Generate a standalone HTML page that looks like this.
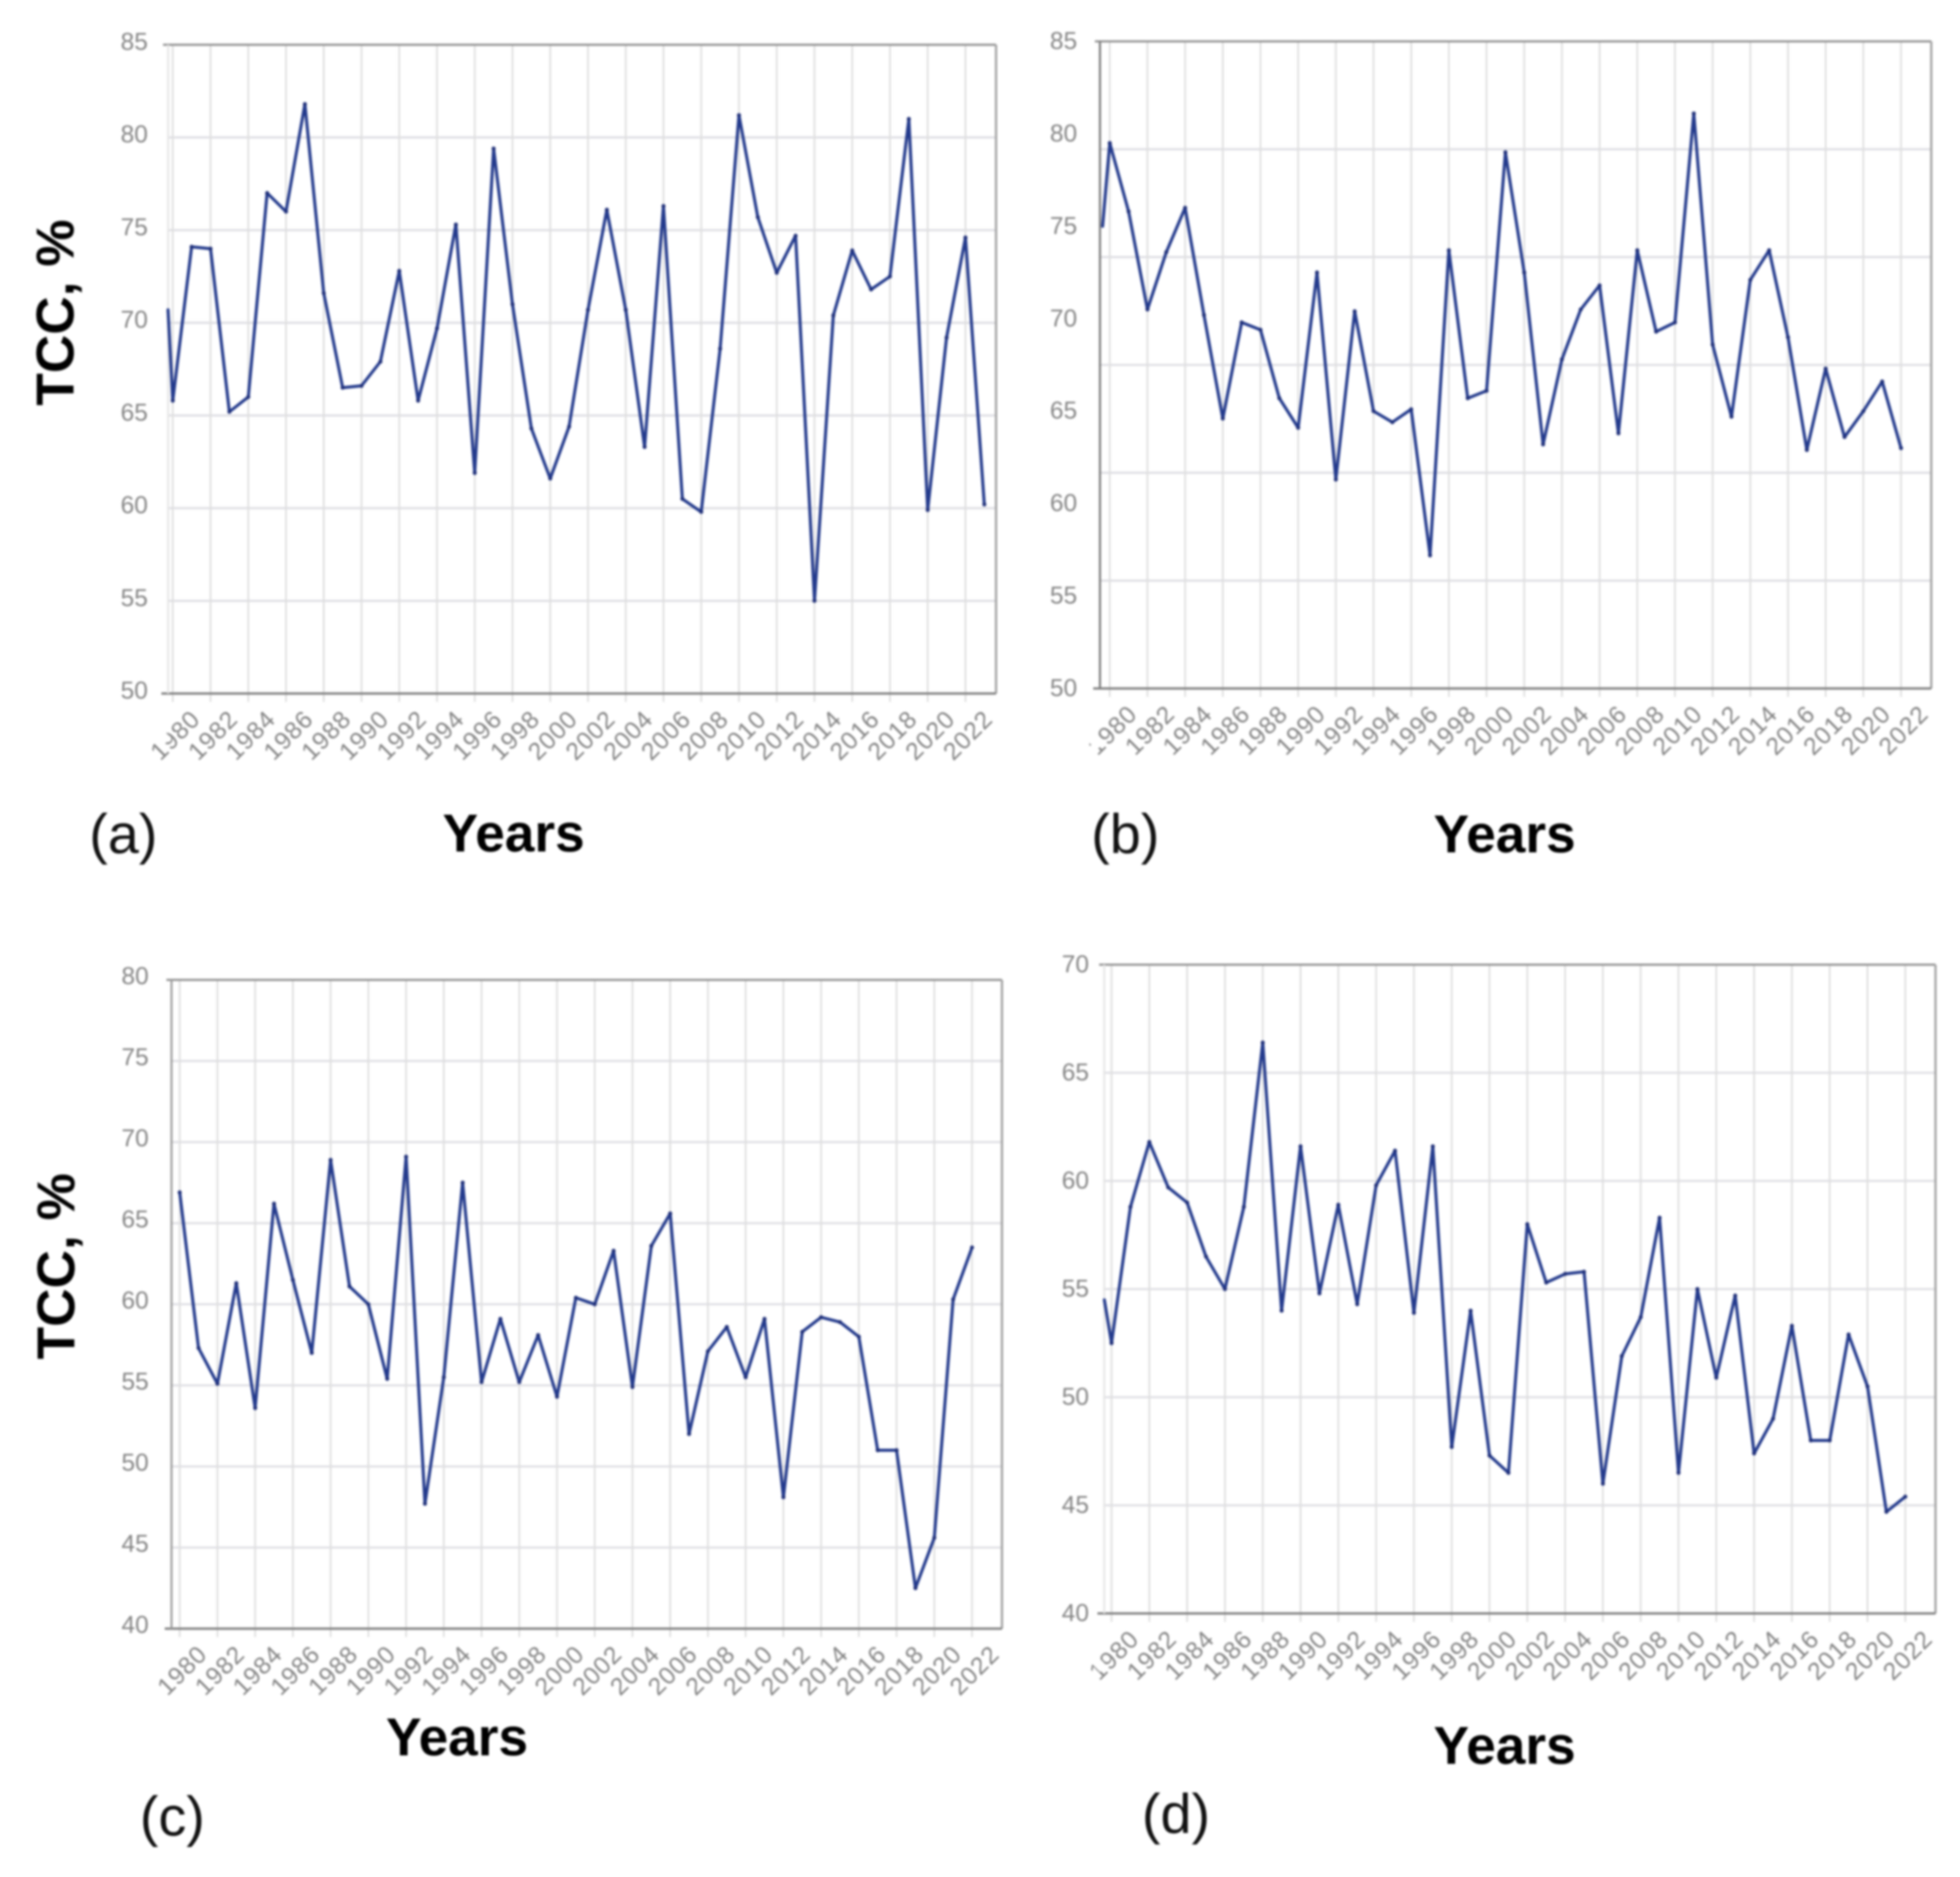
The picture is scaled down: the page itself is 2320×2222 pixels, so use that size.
<!DOCTYPE html>
<html lang="en">
<head>
<meta charset="utf-8">
<title>TCC by year, panels a to d</title>
<style>
html,body{margin:0;padding:0;background:#fff;}
svg{display:block;font-family:"Liberation Sans",sans-serif;}
#charts-root{filter:blur(1.2px);}
.axis-title{font-weight:700;font-size:63px;fill:#000;text-anchor:middle;}
.panel-letter{font-size:66px;fill:#111;text-anchor:middle;}
.tick{font-size:29px;fill:#858585;}
</style>
</head>
<body>
<svg id="figure" width="2320" height="2222" viewBox="0 0 2320 2222" xmlns="http://www.w3.org/2000/svg">
<rect width="2320" height="2222" fill="#fff"/>
<g id="charts-root">
<g id="panel-a"></g>
<g id="panel-b"></g>
<g id="panel-c"></g>
<g id="panel-d"></g>
<text class="axis-title" transform="translate(87,370) rotate(-90)">TCC, %</text>
<text class="axis-title" x="608" y="1008">Years</text>
<text class="panel-letter" x="146" y="1010">(a)</text>
<text class="axis-title" x="1781" y="1009">Years</text>
<text class="panel-letter" x="1332" y="1010">(b)</text>
<text class="axis-title" transform="translate(88,1499) rotate(-90)">TCC, %</text>
<text class="axis-title" x="541" y="2078">Years</text>
<text class="panel-letter" x="204" y="2173">(c)</text>
<text class="axis-title" x="1781" y="2088">Years</text>
<text class="panel-letter" x="1392" y="2170">(d)</text>
</g>
</svg>
<script>
const years = [1980,1981,1982,1983,1984,1985,1986,1987,1988,1989,1990,1991,1992,1993,1994,1995,1996,1997,1998,1999,2000,2001,2002,2003,2004,2005,2006,2007,2008,2009,2010,2011,2012,2013,2014,2015,2016,2017,2018,2019,2020,2021,2022];
const xTickYears = [1980,1982,1984,1986,1988,1990,1992,1994,1996,1998,2000,2002,2004,2006,2008,2010,2012,2014,2016,2018,2020,2022];

const yTicksA = [85,80,75,70,65,60,55,50];
const yTicksB = [85,80,75,70,65,60,55,50];
const yTicksC = [80,75,70,65,60,55,50,45,40];
const yTicksD = [70,65,60,55,50,45,40];

const yearsA = [1979.75].concat(years, [2023]);
const yearsB = [1979.62].concat(years);
const yearsC = years;
const yearsD = [1979.62].concat(years);

const valuesA = [70.7,65.8,74.1,74,65.2,66,77,76,81.8,71.6,66.5,66.6,67.9,72.8,65.8,69.7,75.3,61.9,79.4,71,64.3,61.6,64.4,70.7,76.1,70.7,63.3,76.3,60.5,59.8,68.6,81.2,75.7,72.7,74.7,55,70.4,73.9,71.8,72.5,81,59.9,69.2,74.6,60.2];
const valuesB = [75,79.5,75.8,70.5,73.6,76,70.2,64.6,69.8,69.4,65.7,64.1,72.5,61.3,70.4,65,64.4,65.1,57.2,73.7,65.7,66.1,79,72.5,63.2,67.8,70.5,71.8,63.8,73.7,69.3,69.8,81.1,68.6,64.7,72.1,73.7,69,62.9,67.3,63.6,65,66.6,63];
const valuesC = [66.9,57.3,55.1,61.3,53.6,66.2,61.5,57,68.9,61.1,60,55.4,69.1,47.7,55.5,67.5,55.2,59.1,55.2,58.1,54.3,60.4,60,63.3,54.9,63.6,65.6,52,57.1,58.6,55.5,59.1,48.1,58.3,59.2,58.9,58,51,51,42.5,45.6,60.3,63.5];
const valuesD = [54.5,52.5,58.8,61.8,59.7,59,56.5,55,58.8,66.4,54,61.6,54.8,58.9,54.3,59.8,61.4,53.9,61.6,47.7,54,47.3,46.5,58,55.3,55.7,55.8,46,51.9,53.7,58.3,46.5,55,50.9,54.7,47.4,49,53.3,48,48,52.9,50.5,44.7,45.4];

const NS = 'http://www.w3.org/2000/svg';
function make(tag, parent, props){
  const el = document.createElementNS(NS, tag);
  for (const k in props) el.setAttribute(k, props[k]);
  parent.appendChild(el);
  return el;
}

function drawPanel(id, box, xs, vs, yTicks, gridDivs){
  const g = document.getElementById(id);
  const yMax = yTicks[0], yMin = yTicks[yTicks.length-1];
  const xScale = function(yr){ return box.x1980 + (yr-1980)*box.step; };
  const yScale = function(v){ return box.top + (yMax-v)/(yMax-yMin)*(box.bottom-box.top); };

  for (let i=1;i<gridDivs;i++){
    const gy = box.top + i/gridDivs*(box.bottom-box.top);
    const line = make('line', g, {x1:box.left,x2:box.right,y1:gy,y2:gy,stroke:'#dfdfe4','stroke-width':2.6});
    
    
  }
  xTickYears.forEach(function(yr){
    const gx = xScale(yr);
    const line = make('line', g, {x1:gx,x2:gx,y1:box.top,y2:box.bottom+10,stroke:'#dedede','stroke-width':2});
    
    
  });

  const top = make('line', g, {x1:box.left-6,x2:box.right,y1:box.top,y2:box.top,stroke:'#909090','stroke-width':2.6});
  
  
  const right = make('line', g, {x1:box.right,x2:box.right,y1:box.top,y2:box.bottom,stroke:'#a0a0a0','stroke-width':2.6});
  
  
  const bottom = make('line', g, {x1:box.left-8,x2:box.right,y1:box.bottom,y2:box.bottom,stroke:'#808080','stroke-width':2.8});
  
  
  const left = make('line', g, {x1:box.left,x2:box.left,y1:box.top,y2:box.bottom,stroke:box.leftColor,'stroke-width':2.4});
  
  

  yTicks.forEach(function(t){
    const lab = make('text', g, {x:box.labelX,y:yScale(t)+box.labelDy,'text-anchor':'end','class':'tick'});
    
    
    lab.textContent = t;
  });
  xTickYears.forEach(function(yr){
    const ax = xScale(yr)+34, ay = box.bottom+32;
    const rot = 'rotate(-45 '+ax+' '+ay+')';
    const lab = make('text', g, {x:ax,y:ay,'text-anchor':'end','class':'tick',transform:rot,'letter-spacing':'1'});
    
    
    lab.textContent = yr;
    if (yr===1980 && box.cut){
      const mask = make('rect', g, {x:ax+box.cut[0],y:ay+box.cut[2],width:box.cut[1]-box.cut[0],height:box.cut[3],fill:'#fff',transform:rot});
      
      
    }
  });

  const pts = xs.map(function(yr,i){ return xScale(yr).toFixed(1)+','+yScale(vs[i]).toFixed(1); }).join(' ');
  const series = make('polyline', g, {points:pts,fill:'none',stroke:'#233a8c','stroke-width':3.6,'stroke-linejoin':'round','stroke-linecap':'round'});
  
  
  xs.forEach(function(yr,i){
    if (i===0 && yr<1980) return;
    const dot = make('circle', g, {cx:xScale(yr),cy:yScale(vs[i]),r:2.4,fill:'#1f2f78'});
    
    
  });
}

drawPanel('panel-a', {left:199,right:1179,top:53,bottom:821,x1980:204.5,step:22.34,labelX:175,labelDy:6,leftColor:'#e6e6e6',cut:[-52,-40,-24,13]}, yearsA, valuesA, yTicksA, 7);
drawPanel('panel-b', {left:1302,right:2286,top:49,bottom:815,x1980:1313.6,step:22.3,labelX:1275,labelDy:9,leftColor:'#777',cut:[-64,-50,-26,20]}, yearsB, valuesB, yTicksB, 6);
drawPanel('panel-c', {left:203,right:1186,top:1160,bottom:1928,x1980:212.7,step:22.33,labelX:176,labelDy:5,leftColor:'#999'}, yearsC, valuesC, yTicksC, 8);
drawPanel('panel-d', {left:1307,right:2291,top:1142,bottom:1910,x1980:1315.7,step:22.37,labelX:1289,labelDy:9,leftColor:'#e6e6e6',cut:[-60,-49,-26,19]}, yearsD, valuesD, yTicksD, 6);
</script>
</body>
</html>
